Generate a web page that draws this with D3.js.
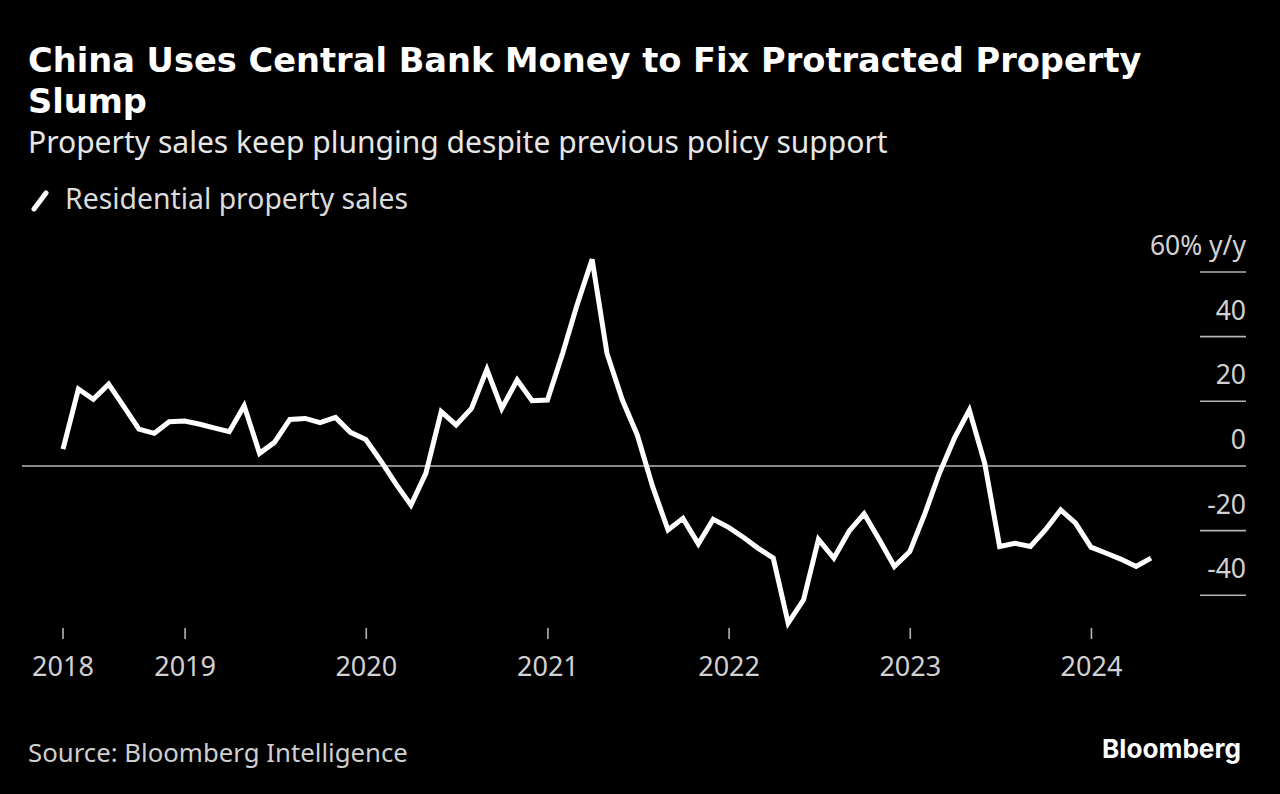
<!DOCTYPE html>
<html>
<head>
<meta charset="utf-8">
<script src="https://cdn.jsdelivr.net/npm/d3@7"></script>
<style>
  html, body { margin: 0; padding: 0; background: #000; }
  svg { display: block; }
</style>
</head>
<body>
<svg id="chart" width="1280" height="794"></svg>
<script>
// ---- data ----
const months = [
  "2018-04","2018-05","2018-06","2018-07","2018-08","2018-09","2018-10","2018-11","2018-12",
  "2019-01","2019-02","2019-03","2019-04","2019-05","2019-06","2019-07","2019-08","2019-09","2019-10","2019-11","2019-12",
  "2020-01","2020-02","2020-03","2020-04","2020-05","2020-06","2020-07","2020-08","2020-09","2020-10","2020-11","2020-12",
  "2021-01","2021-02","2021-03","2021-04","2021-05","2021-06","2021-07","2021-08","2021-09","2021-10","2021-11","2021-12",
  "2022-01","2022-02","2022-03","2022-04","2022-05","2022-06","2022-07","2022-08","2022-09","2022-10","2022-11","2022-12",
  "2023-01","2023-02","2023-03","2023-04","2023-05","2023-06","2023-07","2023-08","2023-09","2023-10","2023-11","2023-12",
  "2024-01","2024-02","2024-03","2024-04"
];
const salesYoY = [
  5.2, 23.8, 20.6, 25.3, 18.3, 11.4, 10.1, 13.7, 13.9,
  12.9, 11.8, 10.6, 18.6, 3.9, 7.3, 14.4, 14.7, 13.4, 15.0, 10.4, 8.2,
  1.4, -5.4, -12.1, -2.3, 16.8, 12.7, 17.8, 29.9, 17.8, 26.6, 20.2, 20.4,
  35.0, 49.5, 63.9, 34.8, 20.4, 9.6, -6.4, -19.8, -16.2, -24.1, -16.5, -19.0,
  -22.2, -25.4, -28.5, -48.6, -41.4, -22.7, -28.5, -20.1, -14.8, -22.9, -31.1, -26.5,
  -14.5, -2.5, 8.6, 17.3, 0.8, -24.9, -23.9, -24.9, -19.8, -13.6, -17.7, -25.1,
  -27.0, -28.8, -31.1, -28.5
];
const yearLabels = ["2018","2019","2020","2021","2022","2023","2024"];
const yTicks = [60, 40, 20, 0, -20, -40];
const yTickLabels = ["60% y/y", "40", "20", "0", "-20", "-40"];

const titleLines = ["China Uses Central Bank Money to Fix Protracted Property", "Slump"];
const subtitle = "Property sales keep plunging despite previous policy support";
const legendLabel = "Residential property sales";
const sourceText = "Source: Bloomberg Intelligence";
const brand = "Bloomberg";

// ---- setup ----
const svg = d3.select("#chart");
svg.append("rect").attr("width", 1280).attr("height", 794).attr("fill", "#000");

const baseFont = "'Noto Sans', 'Open Sans', sans-serif";
const titleFont = "'DejaVu Sans', Verdana, sans-serif";
const brandFont = "Inter, 'Noto Sans', sans-serif";

// month-end dates
const parseMonth = d3.timeParse("%Y-%m");
const dates = months.map(m => { const d = parseMonth(m); return new Date(d.getFullYear(), d.getMonth() + 1, 0); });
const data = dates.map((d, i) => ({ date: d, value: salesYoY[i] }));

const x = d3.scaleTime().domain([dates[0], dates[dates.length - 1]]).range([63, 1151]);
const y = d3.scaleLinear().domain([-40, 60]).range([595.3, 272]);

// fit helper: scale font-size so the text spans the target width
function fit(sel, target) {
  const fs = parseFloat(sel.style("font-size"));
  const w = sel.node().getComputedTextLength();
  sel.style("font-size", (fs * target / w).toFixed(2) + "px");
}
function txt(xp, yp, s, size, family, fill, weight) {
  return svg.append("text").attr("x", xp).attr("y", yp)
    .style("font-family", family).style("font-size", size + "px")
    .style("font-weight", weight || "normal").attr("fill", fill).text(s);
}

// ---- titles ----
const t1 = txt(28, 72, titleLines[0], 30, titleFont, "#fff", "bold");
fit(t1, 1114);
txt(28, 113, titleLines[1], 30, titleFont, "#fff", "bold").style("font-size", t1.style("font-size"));

const st = txt(28, 153, subtitle, 28, baseFont, "#e6e6e6");
fit(st, 860);

// legend
svg.append("line").attr("x1", 34).attr("y1", 209).attr("x2", 46).attr("y2", 193)
  .attr("stroke", "#fff").attr("stroke-width", 5).attr("stroke-linecap", "round");
const lg = txt(65, 209, legendLabel, 27, baseFont, "#dcdcdc");
fit(lg, 343);

// ---- y axis (right side) ----
const yAxis = svg.append("g");
yTicks.forEach((v, i) => {
  yAxis.append("line").attr("x1", v === 0 ? 22 : 1200).attr("x2", 1246)
    .attr("y1", y(v)).attr("y2", y(v))
    .attr("stroke", "#b4b4b4").attr("stroke-width", 1.6);
  yAxis.append("text").attr("x", 1246).attr("y", y(v) - 17).attr("text-anchor", "end")
    .style("font-family", baseFont).style("font-size", "26.5px")
    .attr("fill", "#d2d2d2").text(yTickLabels[i]);
});

// ---- x axis ----
const tickDates = yearLabels.map((yr, i) => i === 0 ? dates[0] : new Date(+yr, 0, 1));
const xAxis = svg.append("g");
tickDates.forEach((d, i) => {
  xAxis.append("line").attr("x1", x(d)).attr("x2", x(d)).attr("y1", 628).attr("y2", 639)
    .attr("stroke", "#b4b4b4").attr("stroke-width", 1.6);
  xAxis.append("text").attr("x", x(d)).attr("y", 676).attr("text-anchor", "middle")
    .style("font-family", baseFont).style("font-size", "27px")
    .attr("fill", "#d2d2d2").text(yearLabels[i]);
});

// ---- line ----
const line = d3.line().x(d => x(d.date)).y(d => y(d.value));
svg.append("path").datum(data).attr("d", line)
  .attr("fill", "none").attr("stroke", "#fff").attr("stroke-width", 5)
  .attr("stroke-linejoin", "miter").attr("stroke-miterlimit", 4).attr("stroke-linecap", "butt");

// ---- footer ----
const src = txt(28, 762, sourceText, 25, baseFont, "#cfcfcf");
fit(src, 380);
const br = txt(1241, 758, brand, 25, brandFont, "#fff", "bold").attr("text-anchor", "end");
fit(br, 139);
</script>
</body>
</html>
